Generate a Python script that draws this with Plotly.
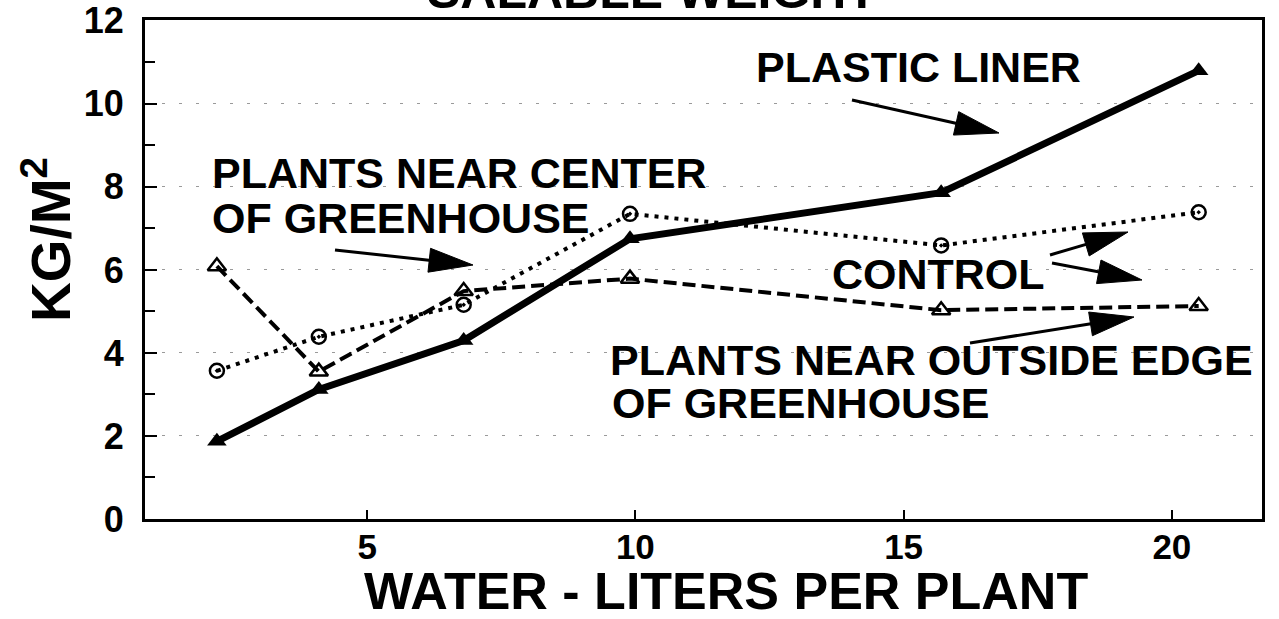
import math
import plotly.graph_objects as go

# ---- data ----
water = [2.2, 4.1, 6.8, 9.9, 15.7, 20.5]           # liters per plant
plastic_liner = [1.87, 3.12, 4.30, 6.75, 7.86, 10.8]  # kg/m2
control_center = [3.57, 4.39, 5.16, 7.35, 6.59, 7.39]
control_edge = [6.09, 3.55, 5.49, 5.79, 5.03, 5.13]

x_ticks = [5, 10, 15, 20]
y_ticks = [0, 2, 4, 6, 8, 10, 12]

FONT = "Liberation Sans, Arial, Helvetica, sans-serif"

# plot-area geometry in pixels
W, H = 1279, 619
L, R, T, B = 145, 17, 20, 100
PW, PH = W - L - R, H - T - B


def paper(px, py):
    return (px - L) / PW, (H - B - py) / PH


fig = go.Figure()
fig.add_trace(go.Scatter(
    x=water, y=plastic_liner, mode="lines+markers", name="Plastic liner",
    line=dict(color="black", width=7),
    marker=dict(symbol="triangle-up", size=17, color="black"),
    cliponaxis=False))
fig.add_trace(go.Scatter(
    x=water, y=control_center, mode="lines+markers", name="Control – center",
    line=dict(color="black", width=4, dash="4px,6px"),
    marker=dict(symbol="circle-open-dot", size=14, color="black",
                line=dict(width=2.5, color="black")),
    cliponaxis=False))
fig.add_trace(go.Scatter(
    x=water, y=control_edge, mode="lines+markers", name="Control – edge",
    line=dict(color="black", width=4, dash="13px,6px"),
    marker=dict(symbol="triangle-up-open", size=16, color="black",
                line=dict(width=2.5, color="black")),
    cliponaxis=False))

annotations = []


def label(text, px, py, size=43, xanchor="left", angle=0):
    x, y = paper(px, py)
    annotations.append(dict(
        text=text, x=x, y=y, xref="paper", yref="paper",
        xanchor=xanchor, yanchor="middle", showarrow=False, textangle=angle,
        font=dict(family=FONT, size=size, color="black", weight="bold")))


label("SALABLE WEIGHT", 652, -9, size=50, xanchor="center")
label("PLASTIC LINER", 754, 67)
label("PLANTS NEAR CENTER", 210, 173)
label("OF GREENHOUSE", 210, 218)
label("CONTROL", 830, 274)
label("PLANTS NEAR OUTSIDE EDGE", 608, 360)
label("OF GREENHOUSE", 610, 403)
label("WATER - LITERS PER PLANT", 726, 591, size=52, xanchor="center")
label("KG/M<sup>2</sup>", 47, 240, size=55, xanchor="center", angle=-90)

shapes = []


def arrow(tail, tip, head_len=44, head_w=24, lw=3):
    dx, dy = tip[0] - tail[0], tip[1] - tail[1]
    n = math.hypot(dx, dy)
    ux, uy = dx / n, dy / n
    nx, ny = -uy, ux
    bx, by = tip[0] - ux * head_len, tip[1] - uy * head_len
    x0, y0 = paper(*tail)
    x1, y1 = paper(bx + ux * 2, by + uy * 2)
    shapes.append(dict(type="line", xref="paper", yref="paper",
                       x0=x0, y0=y0, x1=x1, y1=y1,
                       line=dict(color="black", width=lw)))
    pts = [tip, (bx + nx * head_w / 2, by + ny * head_w / 2),
           (bx - nx * head_w / 2, by - ny * head_w / 2)]
    pp = [paper(*p) for p in pts]
    path = "M {} {} L {} {} L {} {} Z".format(
        pp[0][0], pp[0][1], pp[1][0], pp[1][1], pp[2][0], pp[2][1])
    shapes.append(dict(type="path", xref="paper", yref="paper", path=path,
                       fillcolor="black", line=dict(color="black", width=1)))


arrow((852, 100), (999, 133))
arrow((335, 250), (473, 265))
arrow((1050, 255), (1128, 232))
arrow((1052, 263), (1142, 280))
arrow((970, 343), (1134, 317))

fig.update_layout(
    width=W, height=H,
    margin=dict(l=L, r=R, t=T, b=B, autoexpand=False),
    paper_bgcolor="white", plot_bgcolor="white",
    showlegend=False,
    annotations=annotations, shapes=shapes,
    font=dict(family=FONT, color="black"),
)
fig.update_xaxes(
    range=[0.86, 21.68], tickvals=x_ticks, ticks="inside", ticklen=9,
    tickwidth=2, tickcolor="black", showline=True, linewidth=3,
    linecolor="black", mirror=True, showgrid=False, zeroline=False,
    ticklabelstandoff=-5, automargin=False,
    tickfont=dict(family=FONT, size=35, color="black", weight="bold"))
fig.update_yaxes(
    range=[0, 12.02], tickvals=y_ticks, ticks="inside", ticklen=12,
    tickwidth=2, tickcolor="black", showline=True, linewidth=3,
    linecolor="black", mirror=True, zeroline=False,
    showgrid=True, gridcolor="#9a9a9a", gridwidth=1, griddash="3px,14px",
    minor=dict(ticks="inside", ticklen=10, tickwidth=2, tickcolor="black",
               tick0=0, dtick=1, showgrid=False),
    ticklabelstandoff=11, ticklabeloverflow="allow", automargin=False,
    tickfont=dict(family=FONT, size=36, color="black", weight="bold"))

fig.write_html(
    "out.html",
    config={"displayModeBar": False},
    post_script="document.body.style.margin='0';document.body.style.overflow='hidden';")
